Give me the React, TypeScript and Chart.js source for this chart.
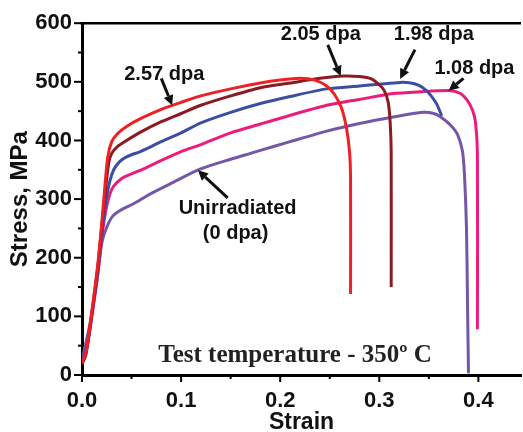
import React, { useEffect, useRef } from 'react';
import { Chart, registerables } from 'chart.js';

Chart.register(...registerables);

// ---- Data (strain, stress in MPa) ----
const strain257 = [0, 0.004, 0.01, 0.016, 0.02, 0.023, 0.026, 0.03, 0.036, 0.045, 0.06, 0.08, 0.1, 0.12, 0.15, 0.18, 0.2, 0.22, 0.235, 0.247, 0.255, 0.262, 0.267, 0.27, 0.271, 0.271];
const stress257 = [20, 38, 110, 190, 260, 320, 372, 398, 412, 424, 438, 453, 465, 476, 488, 498, 503, 506, 503, 493, 478, 455, 420, 380, 340, 138];

const strain205 = [0, 0.004, 0.01, 0.016, 0.02, 0.024, 0.027, 0.03, 0.036, 0.045, 0.06, 0.08, 0.1, 0.12, 0.15, 0.18, 0.21, 0.24, 0.264, 0.28, 0.292, 0.3, 0.305, 0.309, 0.311, 0.312, 0.312];
const stress205 = [18, 35, 105, 185, 255, 320, 362, 378, 390, 400, 415, 432, 446, 460, 476, 490, 498, 506, 510, 509, 505, 495, 485, 465, 430, 380, 150];

const strain198 = [0, 0.005, 0.01, 0.016, 0.02, 0.024, 0.028, 0.032, 0.038, 0.045, 0.06, 0.08, 0.1, 0.12, 0.15, 0.18, 0.21, 0.247, 0.28, 0.3, 0.321, 0.332, 0.34, 0.347, 0.352, 0.358, 0.363];
const stress198 = [25, 50, 105, 180, 240, 295, 330, 350, 364, 372, 382, 398, 413, 430, 448, 463, 475, 488, 493, 496, 499, 498, 494, 486, 477, 462, 442];

const strain108 = [0, 0.005, 0.01, 0.016, 0.02, 0.024, 0.028, 0.032, 0.04, 0.05, 0.06, 0.08, 0.1, 0.12, 0.15, 0.18, 0.2, 0.247, 0.28, 0.314, 0.34, 0.372, 0.382, 0.389, 0.394, 0.397, 0.399, 0.399];
const stress108 = [28, 48, 100, 175, 235, 280, 308, 322, 335, 343, 350, 366, 381, 393, 413, 428, 438, 460, 470, 480, 483, 485, 480, 468, 452, 432, 380, 78];

const strain000 = [0, 0.008, 0.015, 0.02, 0.025, 0.031, 0.04, 0.052, 0.069, 0.089, 0.119, 0.15, 0.17, 0.18, 0.21, 0.247, 0.28, 0.314, 0.344, 0.355, 0.362, 0.372, 0.379, 0.384, 0.386, 0.388, 0.389, 0.39];
const stress000 = [25, 87, 159, 225, 252, 271, 282, 292, 309, 326, 351, 368, 378, 383, 398, 416, 429, 440, 448, 446, 440, 426, 410, 381, 340, 250, 125, 3];

const seriesNames = ['2.57 dpa', '2.05 dpa', '1.98 dpa', '1.08 dpa', 'Unirradiated (0 dpa)'];
const seriesColors = ['#ef1f26', '#8c1a20', '#3b4ea6', '#ec1c7c', '#7556a7'];

// Axis ticks
const xMin = 0;
const xMax = 0.443;
const xStep = 0.05;
const yMin = 0;
const yMax = 600;
const yStep = 50;

// Annotations (positions in data units: strain, stress)
const labelTexts = ['2.57 dpa', '2.05 dpa', '1.98 dpa', '1.08 dpa', 'Unirradiated', '(0 dpa)'];
const labelX = [0.083, 0.241, 0.355, 0.396, 0.157, 0.155];
const labelY = [513, 580, 580, 523, 284, 241];

const arrowTailX = [0.08, 0.248, 0.336, 0.385, 0.147];
const arrowTailY = [506, 563, 555, 506, 302];
const arrowHeadX = [0.091, 0.261, 0.321, 0.37, 0.117];
const arrowHeadY = [460, 510, 505, 485, 349];

const noteText = 'Test temperature - 350\u00BA C';
const noteX = 0.215;
const noteY = 33;

const SANS = '"Liberation Sans", Arial, sans-serif';

export default function App() {
  const ref = useRef<HTMLCanvasElement>(null);

  useEffect(() => {
    if (!ref.current) return;
    const sets = [
      [strain257, stress257],
      [strain205, stress205],
      [strain198, stress198],
      [strain108, stress108],
      [strain000, stress000],
    ];
    const datasets = sets.map(([xs, ys], i) => ({
      label: seriesNames[i],
      data: xs.map((x, j) => ({ x, y: ys[j] })),
      showLine: true,
      borderColor: seriesColors[i],
      backgroundColor: seriesColors[i],
      borderWidth: 3,
      pointRadius: 0,
      fill: false,
      tension: 0.25,
    }));

    const axisPlugin = {
      id: 'axisDeco',
      afterDraw(chart: any) {
        const ctx = chart.ctx;
        const { left, right, top, bottom } = chart.chartArea;
        const xs = chart.scales.x;
        const ys = chart.scales.y;
        ctx.save();
        ctx.strokeStyle = '#000';
        // top frame line
        ctx.lineWidth = 2.5;
        ctx.beginPath();
        ctx.moveTo(left - 1.5, top);
        ctx.lineTo(right, top);
        ctx.stroke();
        // ticks
        ctx.lineWidth = 2;
        for (let v = yMin; v <= yMax + 1e-9; v += yStep) {
          const p = ys.getPixelForValue(v);
          const len = v % 100 === 0 ? 8 : 4;
          ctx.beginPath();
          ctx.moveTo(left - len, p);
          ctx.lineTo(left, p);
          ctx.stroke();
        }
        for (let k = 0; k * xStep <= xMax; k++) {
          const v = k * xStep;
          const p = xs.getPixelForValue(v);
          const len = k % 2 === 0 ? 7 : 4;
          ctx.beginPath();
          ctx.moveTo(p, bottom);
          ctx.lineTo(p, bottom + len);
          ctx.stroke();
        }
        // annotations
        ctx.fillStyle = '#111';
        ctx.font = `bold 20px ${SANS}`;
        ctx.textAlign = 'center';
        ctx.textBaseline = 'middle';
        labelTexts.forEach((t, i) => {
          ctx.fillText(t, xs.getPixelForValue(labelX[i]), ys.getPixelForValue(labelY[i]));
        });
        ctx.strokeStyle = '#111';
        arrowTailX.forEach((_, i) => {
          const x1 = xs.getPixelForValue(arrowTailX[i]);
          const y1 = ys.getPixelForValue(arrowTailY[i]);
          const x2 = xs.getPixelForValue(arrowHeadX[i]);
          const y2 = ys.getPixelForValue(arrowHeadY[i]);
          const ang = Math.atan2(y2 - y1, x2 - x1);
          const hl = 10;
          const hw = 5;
          const bx = x2 - hl * Math.cos(ang);
          const by = y2 - hl * Math.sin(ang);
          ctx.lineWidth = 3;
          ctx.beginPath();
          ctx.moveTo(x1, y1);
          ctx.lineTo(bx, by);
          ctx.stroke();
          ctx.beginPath();
          ctx.moveTo(x2, y2);
          ctx.lineTo(bx + hw * Math.sin(ang), by - hw * Math.cos(ang));
          ctx.lineTo(bx - hw * Math.sin(ang), by + hw * Math.cos(ang));
          ctx.closePath();
          ctx.fill();
        });
        ctx.fillStyle = '#222';
        ctx.font = `bold 25px "Liberation Serif", "Times New Roman", serif`;
        ctx.fillText(noteText, xs.getPixelForValue(noteX), ys.getPixelForValue(noteY));
        ctx.restore();
      },
    };

    const chart = new Chart(ref.current, {
      type: 'scatter',
      data: { datasets },
      options: {
        animation: false,
        responsive: false,
        maintainAspectRatio: false,
        layout: { padding: { left: 0, top: 16, right: 2, bottom: 0 } },
        plugins: { legend: { display: false }, tooltip: { enabled: false } },
        scales: {
          x: {
            type: 'linear',
            min: xMin,
            max: xMax,
            afterFit: (s: any) => {
              s.height = 57;
            },
            grid: { display: false, drawTicks: false },
            border: { display: true, color: '#000', width: 3 },
            ticks: {
              stepSize: xStep,
              includeBounds: false,
              autoSkip: false,
              maxRotation: 0,
              padding: 13,
              color: '#111',
              font: { family: SANS, size: 22, weight: 'bold' },
              callback: (v: any) => {
                const n = Number(v);
                return Math.abs(n * 10 - Math.round(n * 10)) < 1e-6 ? n.toFixed(1) : '';
              },
            },
            title: {
              display: true,
              text: 'Strain',
              color: '#111',
              font: { family: SANS, size: 23, weight: 'bold', lineHeight: 1 },
              padding: { top: 0, bottom: -2 },
            },
          },
          y: {
            type: 'linear',
            min: yMin,
            max: yMax,
            afterFit: (s: any) => {
              s.width = 82;
            },
            grid: { display: false, drawTicks: false },
            border: { display: true, color: '#000', width: 3 },
            ticks: {
              stepSize: yStep,
              autoSkip: false,
              padding: 10,
              color: '#111',
              font: { family: SANS, size: 22, weight: 'bold' },
              callback: (v: any) => (Number(v) % 100 === 0 ? String(v) : ''),
            },
            title: {
              display: true,
              text: 'Stress, MPa',
              color: '#111',
              font: { family: SANS, size: 24, weight: 'bold', lineHeight: 1 },
              padding: { top: 8, bottom: 0 },
            },
          },
        },
      },
      plugins: [axisPlugin],
    } as any);
    return () => chart.destroy();
  }, []);

  return (
    <div style={{ position: 'fixed', left: 0, top: 0, width: 523, height: 432, background: '#fff' }}>
      <canvas ref={ref} width={523} height={432} style={{ width: 523, height: 432, display: 'block' }} />
    </div>
  );
}
